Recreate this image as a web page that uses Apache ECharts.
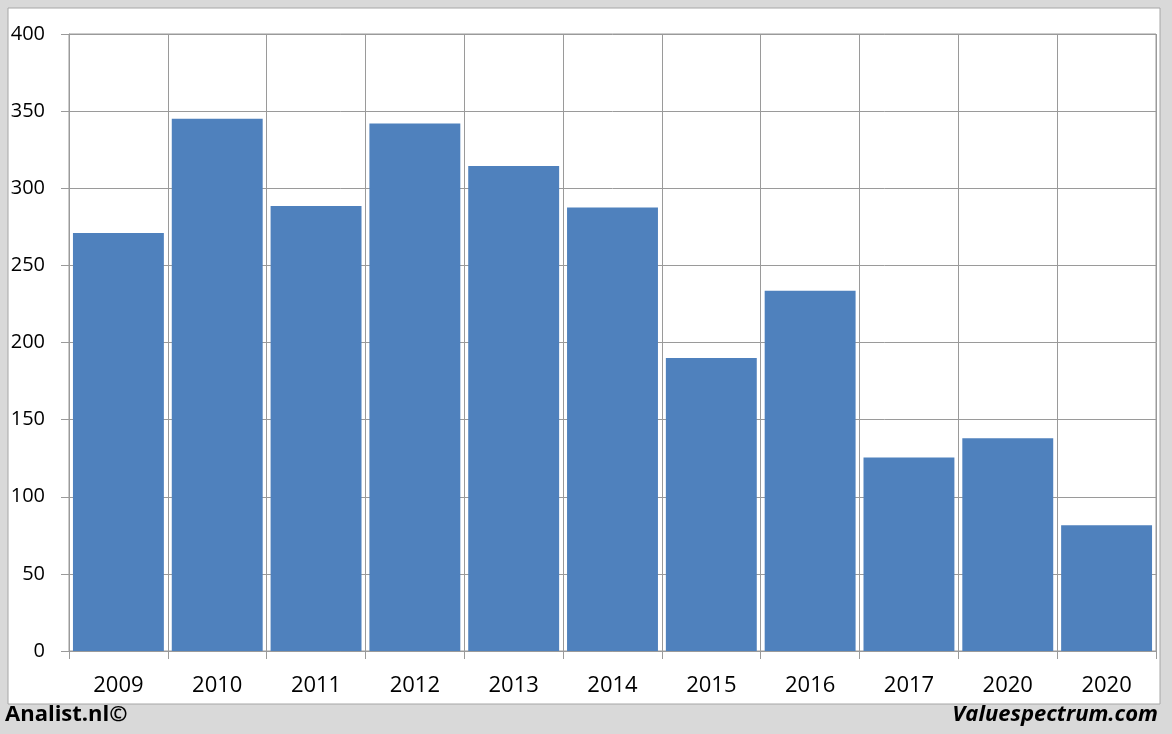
<!DOCTYPE html>
<html><head><meta charset="utf-8">
<script src="https://cdn.jsdelivr.net/npm/echarts@6/dist/echarts.min.js"></script>
<style>html,body{margin:0;padding:0;background:#d9d9d9}#c{width:1172px;height:734px}</style>
</head><body><div id="c"></div>
<script>
const categories = ['2009','2010','2011','2012','2013','2014','2015','2016','2017','2020','2020'];
const values = [271, 345, 288.5, 342, 314.5, 287.5, 190, 233.5, 125.5, 138, 81.5];
const yTicks = [0, 50, 100, 150, 200, 250, 300, 350, 400];

const chart = echarts.init(document.getElementById('c'), null, {renderer:'canvas'});
chart.setOption({
  backgroundColor: '#d9d9d9',
  animation: false,
  graphic: [
    {type:'rect', shape:{x:8, y:8, width:1152, height:696}, style:{fill:'#ffffff', stroke:'#a6a6a6', lineWidth:1}, z:-10},
    {type:'text', left:5, top:704, style:{text:'Analist.nl©', font:'bold 22px "Open Sans", sans-serif', fill:'#000'}},
    {type:'text', right:14, top:704, style:{text:'Valuespectrum.com', font:'italic bold 22px "Open Sans", sans-serif', fill:'#000'}}
  ],
  grid: {left:69, right:16, top:34, bottom:83, show:true, borderColor:'#9a9a9a', borderWidth:1, backgroundColor:'transparent'},
  xAxis: {
    type:'category', data: categories, boundaryGap:true,
    axisLine:{show:true, lineStyle:{color:'#9a9a9a'}},
    axisTick:{show:true, length:8, lineStyle:{color:'#9a9a9a'}},
    splitLine:{show:true, lineStyle:{color:'#9a9a9a'}},
    axisLabel:{color:'#000', fontSize:22, fontFamily:'"Open Sans", sans-serif', margin:24}
  },
  yAxis: {
    type:'value', min:yTicks[0], max:yTicks[yTicks.length-1], interval:50,
    axisLine:{show:true, lineStyle:{color:'#9a9a9a'}},
    axisTick:{show:true, length:8, lineStyle:{color:'#9a9a9a'}},
    splitLine:{show:true, lineStyle:{color:'#9a9a9a'}},
    axisLabel:{color:'#000', fontSize:20, fontFamily:'"Open Sans", sans-serif', margin:24}
  },
  series: [{
    type:'bar', data: values, barCategoryGap:'8%',
    itemStyle:{color:'#4f81bd'}
  }]
});
</script></body></html>
